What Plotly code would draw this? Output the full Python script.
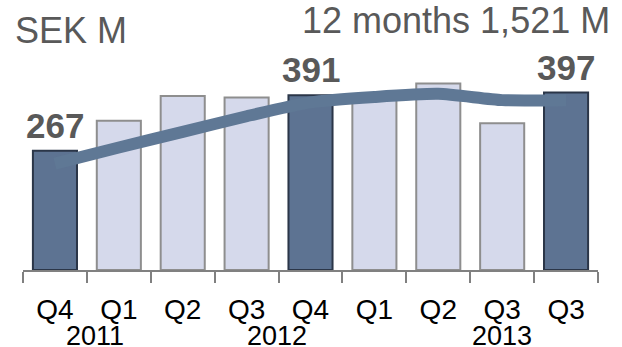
import plotly.graph_objects as go

# Quarterly figures, SEK M
quarters = ["Q4", "Q1", "Q2", "Q3", "Q4", "Q1", "Q2", "Q3", "Q3"]
years = ["2011", "2012", "2013"]
year_positions = [0.63, 3.47, 7.0]
values = [267, 334, 389, 386, 391, 385, 417, 328, 397]
rolling_avg = [238, 274, 309, 344, 375, 387, 394, 380, 380]
highlight = [True, False, False, False, True, False, False, False, True]
labelled = [0, 4, 8]
total_12m = "1,521"

DARK = "#5D7392"
DARK_EDGE = "#2B3648"
LIGHT = "#D5D9EB"
LIGHT_EDGE = "#8E8E8E"
LINE = "#5F7895"
TEXT_GREY = "#595959"
FONT = "Liberation Sans, Arial, sans-serif"

x = list(range(len(values)))

fig = go.Figure()
fig.add_trace(go.Bar(
    x=x,
    y=values,
    width=0.69,
    marker=dict(
        color=[DARK if h else LIGHT for h in highlight],
        line=dict(color=[DARK_EDGE if h else LIGHT_EDGE for h in highlight], width=2),
    ),
    hoverinfo="skip",
))
fig.add_trace(go.Scatter(
    x=x,
    y=rolling_avg,
    mode="lines",
    line=dict(color=LINE, width=12, shape="spline", smoothing=0.6),
    hoverinfo="skip",
))

annotations = []
for i in labelled:
    annotations.append(dict(
        x=i, y=values[i], xref="x", yref="y",
        text=f"<b>{values[i]}</b>", showarrow=False,
        yanchor="bottom", yshift=4,
        font=dict(family=FONT, size=35, color=TEXT_GREY),
    ))
for yr, pos in zip(years, year_positions):
    annotations.append(dict(
        x=pos, y=0, xref="x", yref="paper",
        text=yr, showarrow=False, yanchor="top", yshift=-49,
        font=dict(family=FONT, size=27, color="#000000"),
    ))
annotations.append(dict(
    x=-0.018, y=1.04, xref="paper", yref="paper", text="SEK M",
    showarrow=False, xanchor="left", yanchor="middle",
    font=dict(family=FONT, size=36, color=TEXT_GREY),
))
annotations.append(dict(
    x=1.024, y=1.085, xref="paper", yref="paper", text=f"12 months {total_12m} M",
    showarrow=False, xanchor="right", yanchor="middle",
    font=dict(family=FONT, size=36, color=TEXT_GREY),
))

boundaries = [i - 0.5 for i in range(len(values) + 1)]

fig.update_layout(
    width=622, height=347,
    margin=dict(l=23, r=24, t=40, b=77),
    paper_bgcolor="white", plot_bgcolor="white",
    showlegend=False,
    bargap=0.3,
    annotations=annotations,
    xaxis=dict(
        range=[-0.5, len(values) - 0.5],
        tickmode="array", tickvals=x, ticktext=quarters,
        ticks="", ticklabelstandoff=13,
        tickfont=dict(family=FONT, size=28, color="#000000"),
        showline=True, linecolor="#808080", linewidth=2,
        showgrid=False, zeroline=False,
        minor=dict(tickmode="array", tickvals=boundaries, ticks="outside",
                   ticklen=11, tickwidth=2, tickcolor="#808080", showgrid=False),
    ),
    yaxis=dict(range=[0, 514.5], visible=False, showgrid=False),
)

fig.write_html("out.html")
